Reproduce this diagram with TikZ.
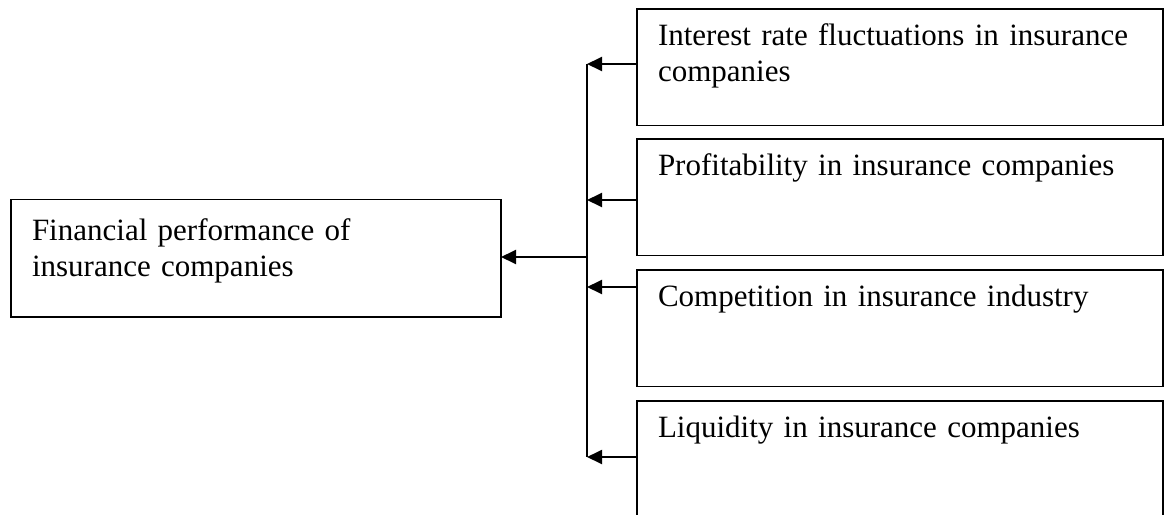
\documentclass[tikz,border=0pt]{standalone}
\usepackage{fontspec}
\setmainfont{Liberation Serif}
\usetikzlibrary{arrows.meta}

\begin{document}
\begin{tikzpicture}[
        x=1pt, y=-1pt, % 1 unit = 1 pixel of the page
        line width=1.9pt,
        factor/.style={draw, rectangle, anchor=north west, outer sep=0pt,
                inner xsep=21pt, inner ysep=0pt, text width=484pt, align=left,
                font=\fontsize{31}{36}\selectfont,
                text height=36.5pt, text depth=80pt}, % box with text at the top
        result/.style={factor, text width=448pt, text height=40.5pt, text depth=77pt},
        arr/.style={-{Triangle[length=15pt, width=14pt]}},
    ]
    \useasboundingbox (0,0) rectangle (1166,514);

    % dependent variable
    \node[result] (fin) at (11,199.5) {Financial performance of\\insurance companies};

    % independent variables
    \node[factor] (rate) at (637,9) {Interest rate fluctuations in insurance\\companies};
    \node[factor] (profit) at (637,139) {Profitability in insurance companies};
    \node[factor] (compet) at (637,270) {Competition in insurance industry};
    \node[factor, text depth=95pt] (liquid) at (637,401) {Liquidity in insurance companies};

    % trunk points
    \coordinate (t1) at (587,64);
    \coordinate (t2) at (587,200);
    \coordinate (t3) at (587,287);
    \coordinate (t4) at (587,457);
    \coordinate (tm) at (587,257);

    \draw (t1) -- (t4);
    \draw[arr] (rate.west |- t1) -- (t1);
    \draw[arr] (profit.west |- t2) -- (t2);
    \draw[arr] (compet.west |- t3) -- (t3);
    \draw[arr] (liquid.west |- t4) -- (t4);
    \draw[arr] (tm) -- (fin.east |- tm);
\end{tikzpicture}
\end{document}
